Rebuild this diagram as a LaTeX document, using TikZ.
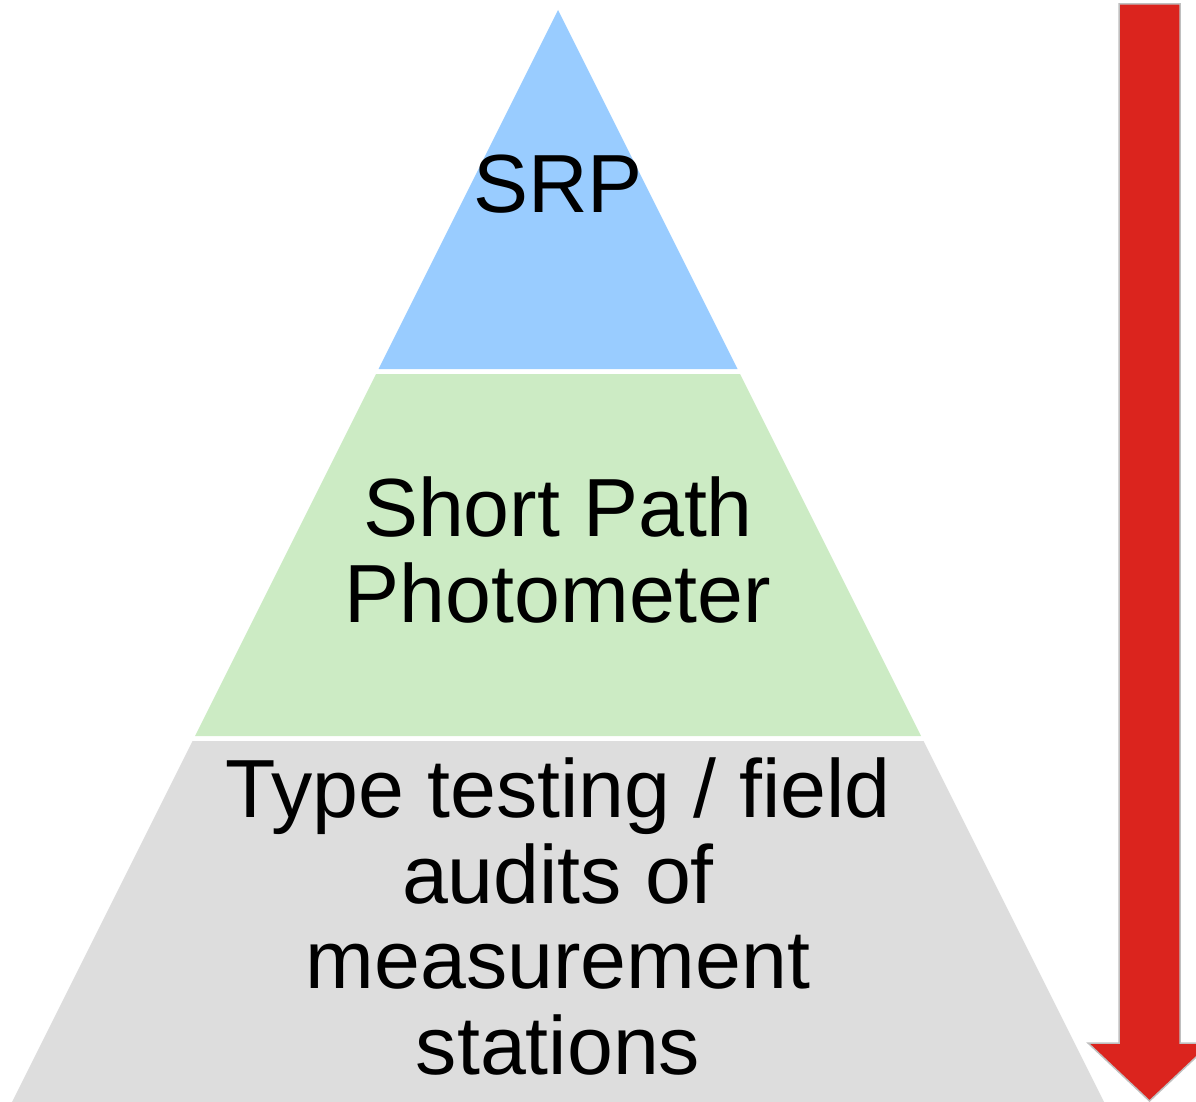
\documentclass[tikz,border=0pt]{standalone}
\usepackage{fontspec}
\setmainfont{Liberation Sans}
\definecolor{srpblue}{RGB}{153,204,255}
\definecolor{sppgreen}{RGB}{204,235,196}
\definecolor{auditgray}{RGB}{221,221,221}
\definecolor{arrowred}{RGB}{219,36,30}
\begin{document}
\begin{tikzpicture}[x=1pt,y=-1pt, line join=miter,
  layertext/.style={align=center, inner sep=0pt, anchor=base, font=\fontsize{82.5}{85.5}\selectfont}]
\def\ax{558} \def\ay{10} % apex of the pyramid
\useasboundingbox (0,0) rectangle (1196,1102);
% layers of the pyramid
\foreach \ytop/\ybot/\col in {10/369/srpblue, 374/736/sppgreen, 741/1102/auditgray}
  \fill[\col] ({\ax-(\ytop-\ay)/2},\ytop) -- ({\ax+(\ytop-\ay)/2},\ytop)
    -- ({\ax+(\ybot-\ay)/2},\ybot) -- ({\ax-(\ybot-\ay)/2},\ybot) -- cycle;
% texts (base = baseline of the last line)
\node[layertext] (srp) at (\ax,212) {SRP};
\node[layertext] (spp) at (\ax,622) {Short Path\\Photometer};
\node[layertext] (audit) at (\ax,1074) {Type testing / field\\audits of\\measurement\\stations};
% downward arrow
\draw[fill=arrowred, draw=black!25, line width=1.5pt]
  (1119,4) -- (1180,4) -- (1180,1043) -- (1211,1043) -- (1149.5,1101)
  -- (1088,1043) -- (1119,1043) -- cycle;
\end{tikzpicture}
\end{document}
